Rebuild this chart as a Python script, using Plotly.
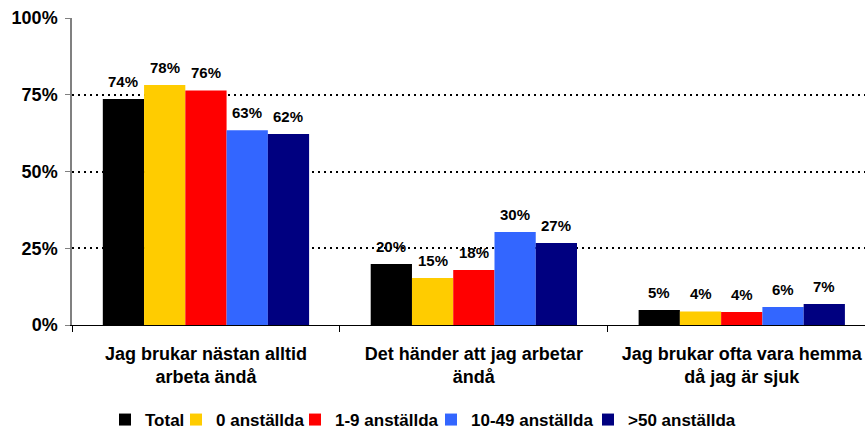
import plotly.graph_objects as go

categories = ["Jag brukar nästan alltid<br>arbeta ändå", "Det händer att jag arbetar<br>ändå", "Jag brukar ofta vara hemma<br>då jag är sjuk"]
series_names = ["Total", "0 anställda", "1-9 anställda", "10-49 anställda", ">50 anställda"]
total = [73.6, 19.9, 4.9]
emp_0 = [78.2, 15.3, 4.4]
emp_1_9 = [76.4, 17.9, 4.2]
emp_10_49 = [63.4, 30.3, 5.9]
emp_50 = [62.2, 26.7, 6.8]
colors = ["#000000", "#FFCC00", "#FF0000", "#3366FF", "#000080"]
y_ticks = [0, 25, 50, 75, 100]
y_tick_labels = ["0%", "25%", "50%", "75%", "100%"]

font = "Liberation Sans, Arial, sans-serif"
L, T, B = 72, 18, 108
W, H = 865, 433
pw, ph = W - L, H - T - B
BARGAP = 0.23

# legend text start positions (pixels) -> one legend per series
legend_text_x = [145, 216, 335, 471, 628]
legend_ids = ["legend", "legend2", "legend3", "legend4", "legend5"]

all_series = [total, emp_0, emp_1_9, emp_10_49, emp_50]
n = len(all_series)
bar_w = (1 - BARGAP) / n

fig = go.Figure()
annotations = []
for i, (name, vals, col, lid) in enumerate(zip(series_names, all_series, colors, legend_ids)):
    fig.add_trace(go.Bar(
        x=categories, y=vals, name=name, marker_color=col, marker_line_width=0,
        legend=lid,
    ))
    for j, v in enumerate(vals):
        annotations.append(dict(
            x=j + (i - (n - 1) / 2) * bar_w, y=v, xref="x", yref="y",
            text=f"{v:.0f}%", showarrow=False, yanchor="bottom", yshift=7,
            font=dict(family=font, size=15, color="#000000", weight="bold"),
        ))

legend_layout = {}
for lid, tx in zip(legend_ids, legend_text_x):
    legend_layout[lid] = dict(
        x=(tx - 40 - L) / pw, xanchor="left", y=(T + ph - 420) / ph, yanchor="middle",
        font=dict(family=font, size=17, color="#000000", weight="bold"),
        itemwidth=30, bgcolor="rgba(0,0,0,0)", borderwidth=0, itemclick=False, itemdoubleclick=False,
    )

fig.update_layout(
    width=W, height=H, barmode="group", bargap=BARGAP, bargroupgap=0,
    plot_bgcolor="white", paper_bgcolor="white",
    margin=dict(l=L, r=0, t=T, b=B, autoexpand=False),
    font=dict(family=font, size=17, color="#000000"),
    showlegend=True,
    annotations=annotations,
    **legend_layout,
)
fig.update_xaxes(
    range=[-0.5, 2.46], showline=True, linecolor="#000000", linewidth=1,
    ticks="outside", tickson="boundaries", ticklen=6, tickcolor="#000000",
    tickfont=dict(family=font, size=18, color="#000000", weight="bold"), showgrid=False,
    automargin=False, ticklabelstandoff=12,
)
fig.update_yaxes(
    range=[0, 100], tickvals=y_ticks, ticktext=y_tick_labels,
    showline=True, linecolor="#808080", linewidth=1.5,
    ticks="outside", ticklen=5, tickcolor="#808080",
    showgrid=True, gridcolor="#000000", griddash="2px,4px", gridwidth=1.5,
    tickfont=dict(family=font, size=18, color="#000000", weight="bold"), zeroline=False,
    automargin=False, ticklabelstandoff=4,
)
fig.write_html("out.html", config={"displayModeBar": False},
               post_script="document.body.style.margin='0';document.body.style.overflow='hidden';")
